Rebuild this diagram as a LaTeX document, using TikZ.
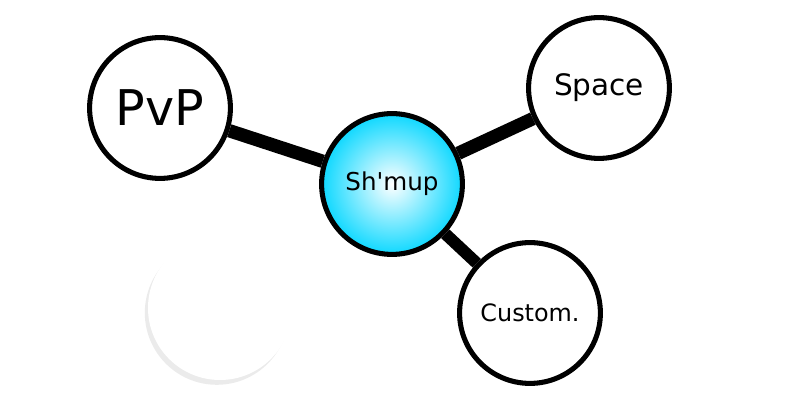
\documentclass[tikz,border=0pt]{standalone}
\usepackage{fontspec}
\setmainfont{DejaVu Sans}
\usepackage{xcolor}
\usepackage{tikz}
\usetikzlibrary{positioning,backgrounds}

\definecolor{shmupcyan}{RGB}{14,216,255}

\begin{document}
\begin{tikzpicture}[
  bubble/.style={circle, draw, line width=3.6pt, fill=white, minimum size=3.52cm, inner sep=0pt},
  hub/.style={bubble, shading=radial, inner color=white, outer color=shmupcyan},
  link/.style={line width=9.5pt}
]
\useasboundingbox (0,0) rectangle (20,10);

\node[hub, font=\fontsize{17.5}{20}\selectfont] (shmup) at (9.8,5.4) {Sh\textquotesingle mup};
\node[bubble, font=\fontsize{35}{40}\selectfont] (pvp) at (4.0,7.3) {PvP};
\node[bubble, font=\fontsize{21}{24}\selectfont] (space) at (14.975,7.8) {Space};
\node[bubble, font=\fontsize{17}{20}\selectfont] (custom) at (13.25,2.175) {Custom.};

\begin{scope}[on background layer]
  % faint ghost bubble
  \fill[black!8] (5.42,2.18) circle (1.80cm);
  \fill[white] (5.5,2.3) circle (1.80cm);
  \draw[link] (pvp) -- (shmup);
  \draw[link] (space) -- (shmup);
  \draw[link, line width=8.5pt] (custom) -- (shmup);
\end{scope}
\end{tikzpicture}
\end{document}
